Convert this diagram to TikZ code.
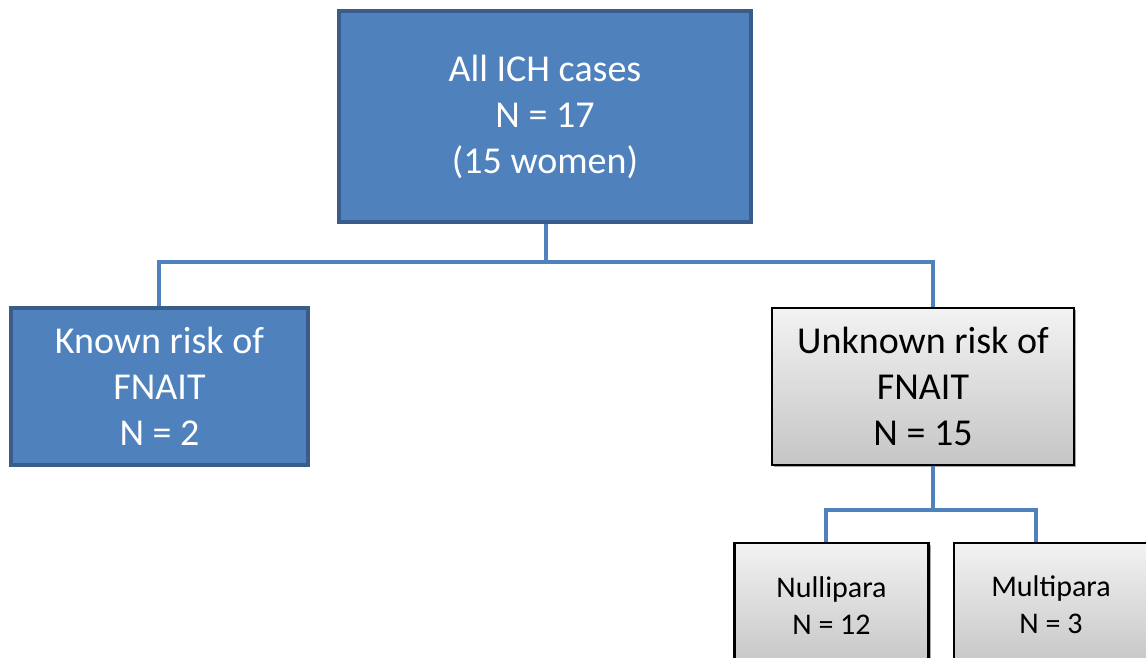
\documentclass[tikz,border=0pt]{standalone}
\usepackage{fontspec}
\setmainfont{Carlito}
\usetikzlibrary{shadows}
\definecolor{boxblue}{HTML}{4F81BD}
\definecolor{borderblue}{HTML}{385D8A}
\definecolor{linkblue}{HTML}{4F81BD}
\tikzset{
  bluebox/.style={rectangle, draw=borderblue, line width=4pt, fill=boxblue,
    text=white, align=center, font=\fontsize{38}{46}\selectfont, inner sep=0pt},
  graybox/.style={rectangle, draw=black, line width=2.2pt,
    top color=gray!10, bottom color=gray!45, text=black, align=center,
    inner sep=0pt,
    drop shadow={shadow xshift=2pt, shadow yshift=-2pt, opacity=0.35, fill=black}},
  bigfont/.style={font=\fontsize{38}{46}\selectfont},
  smallfont/.style={font=\fontsize{30}{37}\selectfont},
  link/.style={draw=linkblue, line width=4.6pt}
}
\begin{document}
\begin{tikzpicture}[x=1pt,y=-1pt]
\clip (0,0) rectangle (1146,657);
\fill[white] (0,0) rectangle (1146,657);
% nodes
\node[bluebox, minimum width=412pt, minimum height=211pt] (top) at (545,116.5)
  {\raisebox{-2pt}{\parbox{380pt}{\centering All ICH cases\\N = 17\\(15 women)}}};
\node[bluebox, minimum width=297pt, minimum height=157pt] (known) at (159.5,386.5)
  {Known risk of\\FNAIT\\N = 2};
\node[graybox, bigfont, minimum width=302pt, minimum height=157pt] (unknown) at (923,386.5)
  {Unknown risk of\\FNAIT\\N = 15};
\node[graybox, smallfont, minimum width=194pt, minimum height=124pt, anchor=north] (nulli) at (831.5,542)
  {Nullipara\\N = 12};
\node[graybox, smallfont, minimum width=194pt, minimum height=124pt, anchor=north] (multi) at (1051,542)
  {Multipara\\N = 3};
% junctions
\coordinate (j1) at (546,262);
\coordinate (j2) at (933,510);
% connectors
\draw[link] (top.south -| j1) -- (j1);
\draw[link] (known.north -| 159,0) |- (j1);
\draw[link] (j1) -| (unknown.north -| j2);
\draw[link] (unknown.south -| j2) -- (j2);
\draw[link] (nulli.north -| 826,0) |- (j2);
\draw[link] (j2) -| (multi.north -| 1036,0);
\end{tikzpicture}
\end{document}
